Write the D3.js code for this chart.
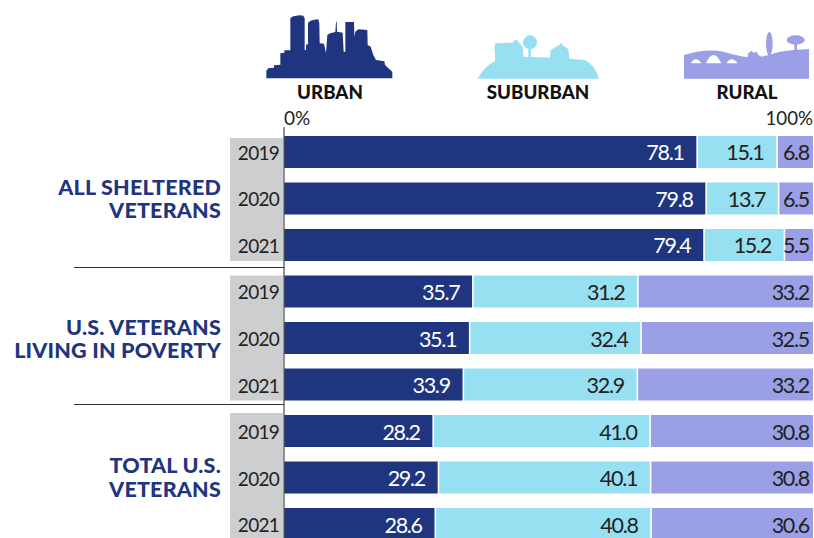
<!DOCTYPE html>
<html><head><meta charset="utf-8">
<script src="https://cdn.jsdelivr.net/npm/d3@7"></script>
<style>html,body{margin:0;padding:0;background:#fff;overflow:hidden}svg{display:block}text{font-family:Lato,sans-serif}</style>
</head><body><svg id="c" width="814" height="538"></svg>
<script>
const groups = ["ALL SHELTERED|VETERANS","U.S. VETERANS|LIVING IN POVERTY","TOTAL U.S.|VETERANS"];
const years = ["2019","2020","2021"];
const seriesNames = ["URBAN","SUBURBAN","RURAL"];
const urban = [78.1,79.8,79.4,35.7,35.1,33.9,28.2,29.2,28.6];
const suburban = [15.1,13.7,15.2,31.2,32.4,32.9,41.0,40.1,40.8];
const rural = [6.8,6.5,5.5,33.2,32.5,33.2,30.8,30.8,30.6];
const colors = ["#1f3580","#96e0f2","#9b9fe6"];
const textColors = ["#fff","#222","#222"];

const svg = d3.select("#c");
const x = d3.scaleLinear().domain([0,100]).range([284,813]);
const y = d3.scaleBand().domain(d3.range(9)).range([136,540]).paddingInner(0.312).paddingOuter(0).align(0);

// group backgrounds
groups.forEach((g,i)=>{
  const top = y(i*3), bottom = y(i*3+2)+y.bandwidth();
  svg.append("rect").attr("x",230).attr("y",top+(i===1?0:i===0?2:-2)).attr("width",53)
     .attr("height",bottom-top-(i===0?2:i===2?-2:0)).attr("fill","#cdcecf");
});

// stacked bars
const rows = urban.map((u,i)=>[u,suburban[i],rural[i]]);
rows.forEach((r,i)=>{
  let acc=0;
  r.forEach((v,s)=>{
    const x0=x(acc), x1=x(Math.min(acc+v,100));
    svg.append("rect").attr("x",x0+(s?0.8:0)).attr("y",y(i)).attr("width",x1-x0-(s?0.8:0)-(s<2?0.8:0))
       .attr("height",y.bandwidth()).attr("fill",colors[s]);
    acc+=v;
  });
});
rows.forEach((r,i)=>{
  let acc=0;
  r.forEach((v,s)=>{
    acc+=v;
    svg.append("text").attr("x",x(Math.min(acc,100))-(s===2?4:13.5)).attr("y",y(i)+y.bandwidth()/2+8.5)
      .attr("text-anchor","end").attr("font-size",21.5).attr("letter-spacing",-1.3).attr("fill",textColors[s]).text(v.toFixed(1));
  });
  svg.append("text").attr("x",258.5).attr("y",y(i)+y.bandwidth()/2+8).attr("text-anchor","middle")
     .attr("font-size",19).attr("letter-spacing",-0.7).attr("fill","#222").text(years[i%3]);
});

// axis and rules
svg.append("line").attr("x1",284).attr("x2",284).attr("y1",127).attr("y2",538).attr("stroke","#555").attr("stroke-width",1.3);
[267.5,404.5].forEach(v=>svg.append("line").attr("x1",74).attr("x2",284).attr("y1",v).attr("y2",v).attr("stroke","#333").attr("stroke-width",1));

// group labels
const labelY=[[195,218],[335,358],[473,497]];
groups.forEach((g,i)=>g.split("|").forEach((t,j)=>{
  svg.append("text").attr("x",221).attr("y",labelY[i][j]).attr("text-anchor","end").attr("font-size",21.5)
     .attr("font-weight",900).attr("letter-spacing",0.2).attr("fill","#1f3580").text(t);
}));

// headers
const headerX=[330,538,747];
seriesNames.forEach((n,i)=>svg.append("text").attr("x",headerX[i]).attr("y",99).attr("text-anchor","middle")
  .attr("font-size",18.7).attr("font-weight",900).attr("fill","#111").text(n));
svg.append("text").attr("x",284).attr("y",125).attr("font-size",19).attr("fill","#222").text("0%");
svg.append("text").attr("x",813).attr("y",125).attr("text-anchor","end").attr("font-size",18.7).attr("fill","#222").text("100%");

// icons
const scaleIcon = (ox)=>`translate(${ox},0) scale(${1/3})`;
const urbanIcon = svg.append("g").attr("transform",scaleIcon(250)).attr("fill",colors[0]);
urbanIcon.append("path")
 .attr("d","M49,235L49,212L55,205L72,203L72,196L91,194L91,160L103,158L103,151L121,151L121,55Q125,48 150,46L160,47L164,55L164,150L168,150L168,134L174,133L174,70Q178,60 205,58L208,70L209,130L222,131L228,160L232,105L240,100L256,96L258,65L260,65L261,95L278,98L281,155L286,155L286,66L312,66L313,110L316,95L325,88L352,90L353,135L362,140L370,165L378,180L403,184L405,195L415,205L427,215L427,235Z");
const subIcon = svg.append("g").attr("transform",scaleIcon(460)).attr("fill",colors[1]);
subIcon.append("path").attr("d","M53,236Q72,200 105,183L105,152L103,150L105,130L158,128L160,122L170,120L188,140L190,170L270,173L272,150L297,135L303,128L308,135L325,148L328,176L375,180Q405,195 417,236Z");
subIcon.append("circle").attr("cx",210).attr("cy",127).attr("r",21);
subIcon.append("path").attr("d","M205,140L213,140L213,172L205,172Z");
const ruralIcon = svg.append("g").attr("transform",scaleIcon(460)).attr("fill",colors[2]);
ruralIcon.append("path").attr("fill-rule","evenodd")
 .attr("d","M672,236L672,165Q740,145 790,155Q835,168 862,172L865,160L875,152L880,158L890,155L895,165L905,170L925,165L960,155L1000,150L1047,147L1047,236Z M692,190Q707,165 724,190Z M738,190Q760,140 784,190Z M799,190Q815,165 833,190Z");
ruralIcon.append("ellipse").attr("cx",928).attr("cy",131).attr("rx",10).attr("ry",35);
ruralIcon.append("ellipse").attr("cx",1007).attr("cy",120).attr("rx",27).attr("ry",14);
ruralIcon.append("path").attr("d","M1003,128L1011,128L1011,152L1003,152Z");
</script></body></html>
